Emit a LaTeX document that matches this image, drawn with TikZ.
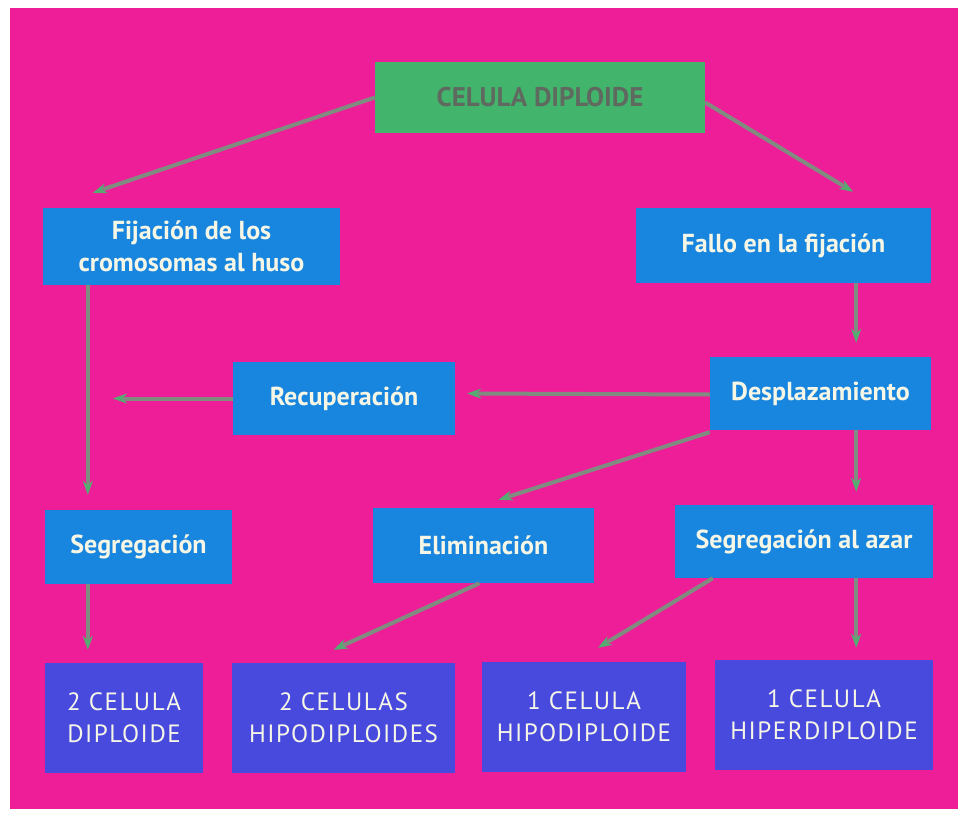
\documentclass[tikz,border=0pt]{standalone}
\usepackage{fontspec}
\setmainfont{PT Sans}
\usetikzlibrary{arrows.meta}
\definecolor{fondo}{RGB}{238,30,152}
\definecolor{azul}{RGB}{24,134,222}
\definecolor{violeta}{RGB}{72,74,222}
\definecolor{verde}{RGB}{66,180,108}
\definecolor{gris}{RGB}{128,140,128}
\definecolor{punta}{RGB}{84,172,112}
\definecolor{crema}{RGB}{246,246,230}
\begin{document}
\begin{tikzpicture}[x=1pt, y=-1pt,
    caja/.style={fill=azul, text=crema, align=center, inner sep=0pt,
        font=\fontsize{26}{32}\selectfont\bfseries},
    final/.style={fill=violeta, text=crema, align=center, inner sep=0pt,
        minimum height=110pt, font=\fontsize{25}{32}\selectfont\addfontfeature{LetterSpace=6}},
    flecha/.style={draw=gris, line width=4pt,
        -{Stealth[length=14pt, width=10pt, color=punta]}}]
    % Background
    \fill[white] (0,0) rectangle (958,813);
    \fill[fondo] (10,8) rectangle (958,809);
    % Top
    \node[fill=verde, text=gris!75!black, inner sep=0pt, minimum width=330pt, minimum height=71pt,
        font=\fontsize{27}{32}\selectfont\bfseries] (celula) at (540,97.5) {CELULA DIPLOIDE};
    % Second row
    \node[caja, minimum width=297pt, minimum height=77pt] (fijacion) at (191.5,246.5)
        {Fijación de los\\cromosomas al huso};
    \node[caja, minimum width=295pt, minimum height=75pt] (fallo) at (783.5,245.5)
        {Fallo en la fijación};
    % Third row
    \node[caja, minimum width=222pt, minimum height=73pt] (recuperacion) at (344,398.5) {Recuperación};
    \node[caja, minimum width=221pt, minimum height=73pt] (desplazamiento) at (820.5,393.5) {Desplazamiento};
    \coordinate (retorno) at (113,398.5);
    % Fourth row
    \node[caja, minimum width=187pt, minimum height=74pt] (segregacion) at (138.5,547) {Segregación};
    \node[caja, minimum width=221pt, minimum height=75pt] (eliminacion) at (483.5,545.5) {Eliminación};
    \node[caja, minimum width=258pt, minimum height=73pt] (azar) at (804,541.5) {Segregación al azar};
    % Results
    \node[final, minimum width=158pt] (diploide) at (124,718) {2 CELULA\\DIPLOIDE};
    \node[final, minimum width=223pt] (hipos) at (343.5,718) {2 CELULAS\\HIPODIPLOIDES};
    \node[final, minimum width=204pt] (hipo) at (584,717) {1 CELULA\\HIPODIPLOIDE};
    \node[final, minimum width=218pt] (hiper) at (824,715) {1 CELULA\\HIPERDIPLOIDE};
    % Arrows
    \draw[flecha] (celula.west) -- ([xshift=50pt, yshift=15pt]fijacion.north west);
    \draw[flecha] ([yshift=-5pt]celula.east) -- ([xshift=-78pt, yshift=16pt]fallo.north east);
    \draw[flecha] ([xshift=45pt]fijacion.south west) -- ([xshift=43pt, yshift=15pt]segregacion.north west);
    \draw[flecha] ([xshift=-75pt]fallo.south east) -- ([xshift=-75pt, yshift=14pt]desplazamiento.north east);
    \draw[flecha] ([yshift=-1pt]desplazamiento.west) -- ([xshift=12pt]recuperacion.east |- desplazamiento.west);
    \draw[flecha] (recuperacion.west) -- (retorno);
    \draw[flecha] ([yshift=-2pt]desplazamiento.south west) -- ([xshift=15pt, yshift=8pt]eliminacion.north);
    \draw[flecha] ([xshift=-75pt]desplazamiento.south east) -- ([xshift=-77pt, yshift=13pt]azar.north east);
    \draw[flecha] ([xshift=43pt]segregacion.south west) -- ([xshift=43pt, yshift=13pt]diploide.north west);
    \draw[flecha] ([xshift=-4pt]eliminacion.south) -- ([xshift=-10pt, yshift=13pt]hipos.north);
    \draw[flecha] ([xshift=38pt]azar.south west) -- ([xshift=14pt, yshift=14pt]hipo.north);
    \draw[flecha] ([xshift=-77pt]azar.south east) -- ([xshift=-77pt, yshift=12pt]hiper.north east);
\end{tikzpicture}
\end{document}
